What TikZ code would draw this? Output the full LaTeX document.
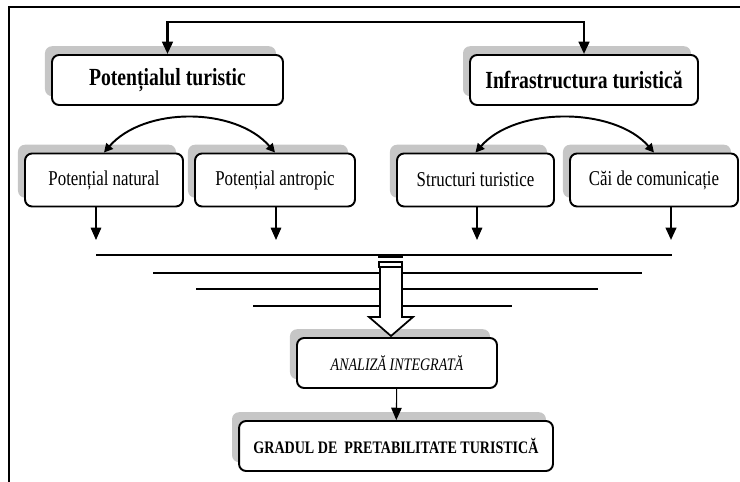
\documentclass[tikz,border=0pt]{standalone}
\usepackage{fontspec}
\setmainfont{Liberation Serif}[FakeStretch=0.8]
\usetikzlibrary{arrows.meta,shadows}

\begin{document}
\begin{tikzpicture}[x=0.02cm,y=-0.02cm,
  backshadow/.style={general shadow={fill=gray!45, shadow xshift=-4pt, shadow yshift=5pt}},
  bigbox/.style={draw, line width=1.1pt, rounded corners=4pt, fill=white, backshadow,
    minimum height=1cm, font=\fontsize{14}{16}\selectfont\bfseries},
  smallbox/.style={draw, line width=1.1pt, rounded corners=4pt, fill=white, backshadow,
    minimum height=1.06cm, font=\fontsize{12}{14}\selectfont},
  link/.style={-{Triangle[length=7pt,width=6pt]}, line width=0.8pt},
  hline/.style={line width=1pt}]
  \useasboundingbox (0,0) rectangle (740,482);
  % frame
  \draw[line width=0.7pt] (740,7) -- (9,7) -- (9,482);

  \node[bigbox, minimum width=4.62cm] (pt) at (167.5,80) {Potențialul turistic};
  \node[bigbox, minimum width=4.56cm] (it) at (584,80) {Infrastructura turistică};
  \draw[{Triangle[length=7pt,width=6pt]}-{Triangle[length=7pt,width=6pt]}, line width=1.5pt]
    (pt.north) -- ++(0,-32) -| (it.north);

  \node[smallbox, minimum width=3.16cm] (pn) at (104,180) {Potențial natural};
  \node[smallbox, minimum width=3.2cm] (pa) at (275,180) {Potențial antropic};
  \node[smallbox, minimum width=3.14cm] (st) at (475.5,180) {Structuri turistice};
  \node[smallbox, minimum width=3.36cm] (cc) at (654,180) {Căi de comunicație};
  \draw[{Triangle[length=5pt,width=5pt]}-{Triangle[length=5pt,width=5pt]}, line width=1.1pt]
    (pn.north) .. controls +(40,-46) and +(-40,-46) .. (pa.north);
  \draw[{Triangle[length=5pt,width=5pt]}-{Triangle[length=5pt,width=5pt]}, line width=1.1pt]
    (st.north) .. controls +(40,-46) and +(-40,-46) .. (cc.north);

  \coordinate (d1) at (96,240);
  \coordinate (d2) at (276,240);
  \coordinate (d3) at (477,240);
  \coordinate (d4) at (671,240);
  \draw[link] (pn.south -| d1) -- (d1);
  \draw[link] (pa.south -| d2) -- (d2);
  \draw[link] (st.south -| d3) -- (d3);
  \draw[link, line width=1.3pt] (cc.south -| d4) -- (d4);

  \foreach \y/\a/\b in {255/96/672, 273/153/642, 289/196/598, 306/253/512}
    \draw[hline] (\a,\y) -- (\b,\y);

  \node[bigbox, minimum width=4cm, font=\fontsize{10}{12}\selectfont\itshape] (an) at (397,363) {ANALIZĂ INTEGRATĂ};
  \node[bigbox, minimum width=6.28cm, font=\fontsize{10}{12}\selectfont\bfseries] (gr) at (396,446) {GRADUL DE\ \ PRETABILITATE TURISTICĂ};
  \draw[link, line width=0.6pt] (an) -- (gr);

  % hollow arrow into the analysis box
  \fill (378,254) rectangle (403,258);
  \draw[line width=0.8pt] (379,262) rectangle (402,267);
  \draw[line width=1pt, fill=white] (380,267) -- (380,317) -- (369,317) -- (391,336)
    -- (413,317) -- (402,317) -- (402,267) -- cycle;
\end{tikzpicture}
\end{document}
